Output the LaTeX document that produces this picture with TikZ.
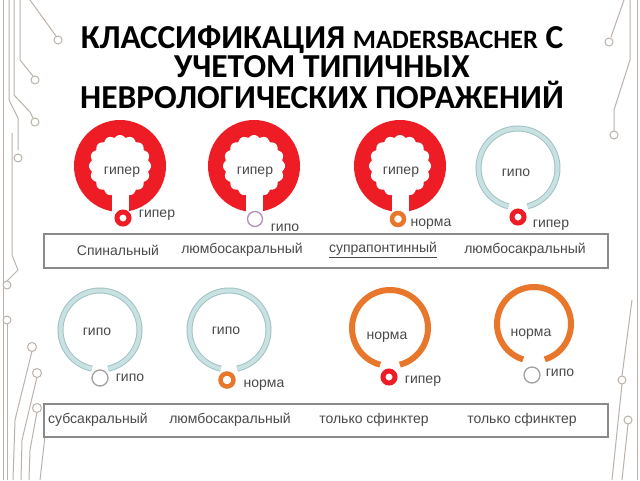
\documentclass[tikz,border=0pt]{standalone}
\usepackage{fontspec}
\setmainfont{Liberation Sans}
\newfontfamily\titlefont{Carlito}
\definecolor{myred}{HTML}{EE1C25}
\definecolor{myorange}{HTML}{E8762B}
\definecolor{bluefill}{HTML}{C9E1E1}
\definecolor{blueedge}{HTML}{9FC3C5}
\definecolor{smallgray}{HTML}{A0A0A0}
\definecolor{smallpurple}{HTML}{B090B8}
\definecolor{labelgray}{HTML}{4A4A4A}
\definecolor{boxgray}{HTML}{8A8A8A}
\definecolor{circuit}{HTML}{BCB2AA}
\begin{document}
\begin{tikzpicture}[x=1pt,y=-1pt,
  lbl/.style={font=\fontsize{14}{16}\selectfont, text=labelgray, inner sep=0pt},
  boxlbl/.style={font=\fontsize{14}{16}\selectfont, text=labelgray, inner sep=0pt},
  ttl/.style={font=\titlefont\bfseries\fontsize{33.5}{36}\selectfont, text=black, inner sep=0pt, anchor=base, text height=22pt, text depth=2pt},
  catbox/.style={draw=boxgray, line width=1.2pt},
  bluering/.style={draw=blueedge, line width=6pt},
  bluein/.style={draw=bluefill, line width=4pt},
  orangering/.style={draw=myorange, line width=6pt},
  smallred/.style={draw=myred, line width=5pt},
  smallorange/.style={draw=myorange, line width=4.5pt},
  smallthin/.style={line width=1.3pt},
  wire/.style={draw=circuit, line width=1pt},
  pad/.style={draw=circuit, line width=1pt, fill=white}]
\useasboundingbox (0,0) rectangle (640,480);
\fill[white] (0,0) rectangle (640,480);

% ---- circuit decoration ----
\draw[wire] (3,0) -- (3,480);
\draw[wire] (9,0) -- (9,100) -- (18,118) -- (18,150);
\draw[wire] (20,0) -- (20,60) -- (33,76);
\draw[wire] (14,0) -- (14,95) -- (30,112) -- (33,118);
\draw[wire] (30,0) -- (56,36);
\draw[wire] (12,133) -- (12,255) -- (18,270) -- (7,281);
\draw[wire] (7,324) -- (7,480);
\draw[wire] (32,351) -- (15,420) -- (13,480);
\draw[wire] (37,377) -- (22,440) -- (21,480);
\draw[wire] (37,412) -- (30,450) -- (29,480);
\draw[wire] (45,436) -- (40,480);
\node[pad, circle, minimum size=8pt, inner sep=0pt] (p1) at (58,40) {};
\node[pad, circle, minimum size=8pt, inner sep=0pt] (p2) at (35,80) {};
\node[pad, circle, minimum size=8pt, inner sep=0pt] (p3) at (35,122) {};
\node[pad, circle, minimum size=8pt, inner sep=0pt] (p4) at (18,158) {};
\node[pad, circle, minimum size=8pt, inner sep=0pt] (p5) at (7,285) {};
\node[pad, circle, minimum size=8pt, inner sep=0pt] (p6) at (7,320) {};
\node[pad, circle, minimum size=9pt, inner sep=0pt] (p7) at (32,347) {};
\node[pad, circle, minimum size=9pt, inner sep=0pt] (p8) at (37,373) {};
\node[pad, circle, minimum size=9pt, inner sep=0pt] (p9) at (37,408) {};
\draw[wire] (637,0) -- (637,480);
\draw[wire] (624,0) -- (611,37);
\draw[wire] (630,0) -- (630,60) -- (614,110) -- (614,131);
\draw[wire] (632,300) -- (622,376);
\draw[wire] (622,384) -- (612,480);
\draw[wire] (628,424) -- (622,480);
\node[pad, circle, minimum size=8pt, inner sep=0pt] (q1) at (609,42) {};
\node[pad, circle, minimum size=8pt, inner sep=0pt] (q2) at (614,135) {};
\node[pad, circle, minimum size=8pt, inner sep=0pt] (q3) at (622,380) {};
\node[pad, circle, minimum size=8pt, inner sep=0pt] (q4) at (628,420) {};

% ---- title ----
\node[ttl] (title1) at (322,48) {КЛАССИФИКАЦИЯ {\fontsize{26.5}{29}\selectfont MADERSBACHER} С};
\node[ttl] (title2) at (322,77) {УЧЕТОМ ТИПИЧНЫХ};
\node[ttl] (title3) at (322,108) {НЕВРОЛОГИЧЕСКИХ ПОРАЖЕНИЙ};

% ---- red rings (top row) ----
\foreach \cx/\cy in {120/166, 254/166, 400/166}{
  \begin{scope}[shift={(\cx,\cy)}]
    \fill[myred] (0,0) circle (46);
    \fill[white] plot[domain=0:360, samples=289] (\x:{28.5+2.5*abs(cos(8*\x))}) -- cycle;
    \fill[white] (-8.5,20) rectangle (8.5,50);
  \end{scope}
}
\node[lbl] (t1) at (122,172) {гипер};
\node[lbl] (t2) at (255,172) {гипер};
\node[lbl] (t3) at (401,172) {гипер};

% ---- blue ring top right ----
\draw[bluering] (518,168) ++(104:39.5) arc[start angle=104, end angle=436, radius=39.5];
\draw[bluein] (518,168) ++(104:39.5) arc[start angle=104, end angle=436, radius=39.5];
\node[lbl] (t4) at (516,173) {гипо};

% small circles top row
\node[smallred, circle, minimum size=12pt, inner sep=0pt] (s1) at (123,218) {};
\node[smallthin, draw=smallpurple, circle, minimum size=15pt, inner sep=0pt] (s2) at (255,219) {};
\node[smallorange, circle, minimum size=12pt, inner sep=0pt] (s3) at (398,219) {};
\node[smallred, circle, minimum size=12pt, inner sep=0pt] (s4) at (518,217) {};
\node[lbl] (l1) at (157,215) {гипер};
\node[lbl] (l2) at (285,228) {гипо};
\node[lbl] (l3) at (431,224) {норма};
\node[lbl] (l4) at (551,225) {гипер};

% ---- top box ----
\draw[catbox] (44,234) rectangle (608,268);
\node[boxlbl] (b1) at (118,250) {Спинальный};
\node[boxlbl] (b2) at (242,250) {люмбосакральный};
\node[boxlbl] (b3) at (383,250) {\underline{супрапонтинный}};
\node[boxlbl] (b4) at (525,250) {люмбосакральный};

% ---- bottom row rings ----
\foreach \cx/\cy in {100/330, 229/330}{
  \draw[bluering] (\cx,\cy) ++(102:39.5) arc[start angle=102, end angle=438, radius=39.5];
  \draw[bluein] (\cx,\cy) ++(102:39.5) arc[start angle=102, end angle=438, radius=39.5];
}
\draw[orangering] (390,328) ++(105:38) arc[start angle=105, end angle=435, radius=38];
\draw[orangering] (534,324) ++(107:37) arc[start angle=107, end angle=433, radius=37];
\node[lbl] (t5) at (97,332) {гипо};
\node[lbl] (t6) at (226,331) {гипо};
\node[lbl] (t7) at (387,337) {норма};
\node[lbl] (t8) at (531,334) {норма};

\node[smallthin, draw=smallgray, circle, minimum size=16pt, inner sep=0pt] (s5) at (100,378) {};
\node[smallorange, circle, minimum size=13pt, inner sep=0pt] (s6) at (227,380) {};
\node[smallred, circle, minimum size=12pt, inner sep=0pt] (s7) at (389,377) {};
\node[smallthin, draw=smallgray, circle, minimum size=16pt, inner sep=0pt] (s8) at (532,375) {};
\node[lbl] (l5) at (130,378) {гипо};
\node[lbl] (l6) at (264,385) {норма};
\node[lbl] (l7) at (423,381) {гипер};
\node[lbl] (l8) at (560,373) {гипо};

% ---- bottom box ----
\draw[catbox] (44,404) rectangle (608,437);
\node[boxlbl] (c1) at (98,420) {субсакральный};
\node[boxlbl] (c2) at (230,420) {люмбосакральный};
\node[boxlbl] (c3) at (374,420) {только сфинктер};
\node[boxlbl] (c4) at (522,420) {только сфинктер};
\end{tikzpicture}
\end{document}
